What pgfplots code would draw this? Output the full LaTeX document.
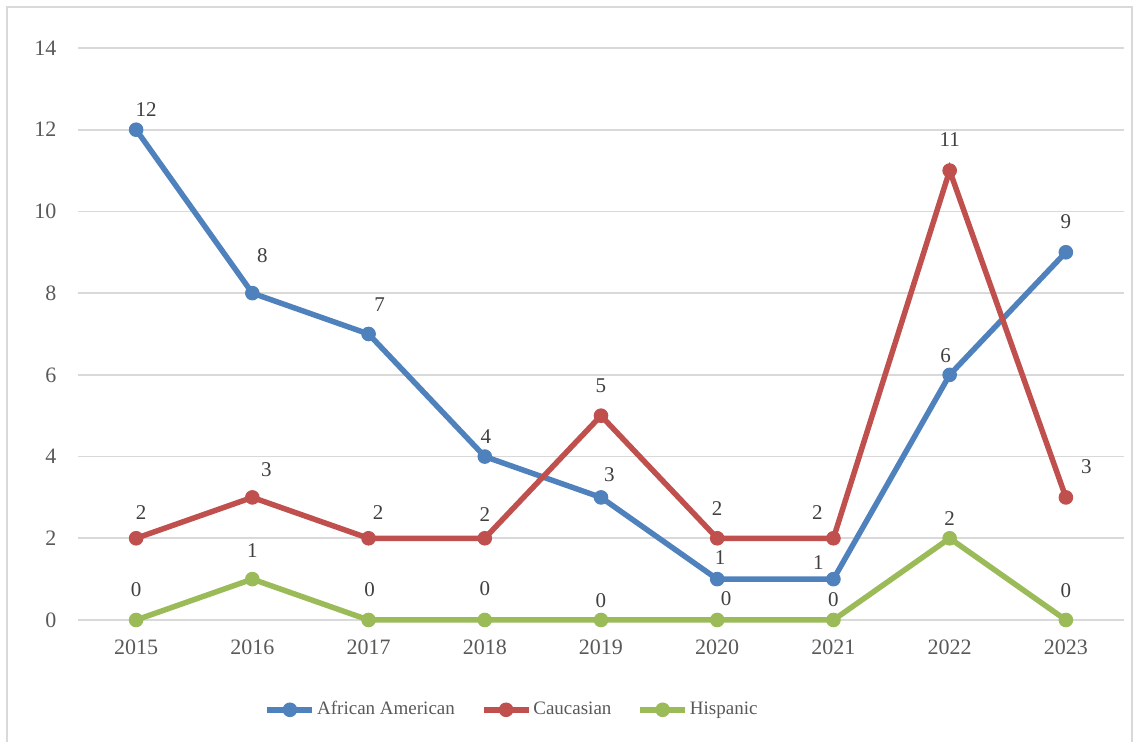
\documentclass[border=0pt]{standalone}
\usepackage{pgfplots}
\usepackage{pgfplotstable}
\pgfplotsset{compat=1.18}
\usepackage{fontspec}
\setmainfont{Liberation Serif}

\definecolor{aablue}{HTML}{4F81BD}
\definecolor{cared}{HTML}{C0504D}
\definecolor{higreen}{HTML}{9BBB59}
\definecolor{gridgray}{HTML}{D9D9D9}
\definecolor{ticktext}{HTML}{595959}
\definecolor{labeltext}{HTML}{404040}

% x = year index (0 = 2015), y = count, dx/dy = label offset in pt
\pgfplotstableread{
x y dx dy
0 12 5 10
1 8 5 19
2 7 5.5 14.5
3 4 0.5 10
4 3 4.25 11.5
5 1 1.5 11
6 1 -7.5 8.5
7 6 -2 9.5
8 9 0 15.5
}\tableAA

\pgfplotstableread{
x y dx dy
0 2 2.5 13
1 3 7 14
2 2 4.75 13
3 2 0 12
4 5 0 15
5 2 0 15
6 2 -8 13
7 11 0 15.5
8 3 10.25 15.5
}\tableCA

\pgfplotstableread{
x y dx dy
0 0 0 15
1 1 0 14.5
2 0 0.5 15
3 0 0 15.5
4 0 0 9.5
5 0 4.5 10.5
6 0 0 10
7 2 0 10
8 0 0 14.5
}\tableHI

\begin{document}
\begin{tikzpicture}
\useasboundingbox (0,0) rectangle (567.5pt,371pt);
\draw[gridgray, line width=0.75pt] (3.5pt,-2pt) rectangle (566pt,367.5pt);
\begin{axis}[
  at={(39pt,61pt)}, anchor=south west,
  scale only axis, width=523pt, height=286pt,
  xmin=-0.5, xmax=8.5, ymin=0, ymax=14,
  xtick={0,...,8},
  xticklabels={2015,2016,2017,2018,2019,2020,2021,2022,2023},
  ytick={0,2,...,14},
  axis line style={draw=none},
  tick style={draw=none},
  ymajorgrids,
  grid style={gridgray, line width=0.9pt},
  clip=false,
  /pgf/number format/assume math mode=true,
  ticklabel style={font=\fontsize{11}{13}\selectfont, text=ticktext},
  yticklabel style={xshift=-7.3pt},
  xticklabel style={yshift=-6.5pt},
  every axis plot/.append style={line width=2.75pt, mark=*, mark size=3.4pt, mark options={solid, line width=0.5pt}},
  legend columns=3,
  legend style={at={(axis description cs:0.415,-0.157)}, anchor=center, draw=none,
    font=\fontsize{9.5}{11}\selectfont, text=ticktext,
    nodes={inner sep=1pt},
    /tikz/every even column/.append style={column sep=12pt}},
  legend image code/.code={\draw[mark repeat=2,mark phase=2,#1] plot coordinates {(0pt,0pt) (11.25pt,0pt) (22.5pt,0pt)};},
  labelled/.style={
    nodes near coords,
    visualization depends on={\thisrow{dx}\as\dx},
    visualization depends on={\thisrow{dy}\as\dy},
    nodes near coords style={font=\fontsize{10.5}{12}\selectfont, text=labeltext, anchor=center, xshift=\dx pt, yshift=\dy pt},
  },
]
\addplot[aablue, labelled] table[x=x,y=y]{\tableAA};
\addplot[cared, labelled] table[x=x,y=y]{\tableCA};
\addplot[higreen, labelled] table[x=x,y=y]{\tableHI};
\legend{African American, Caucasian, Hispanic}
\end{axis}
\end{tikzpicture}
\end{document}
